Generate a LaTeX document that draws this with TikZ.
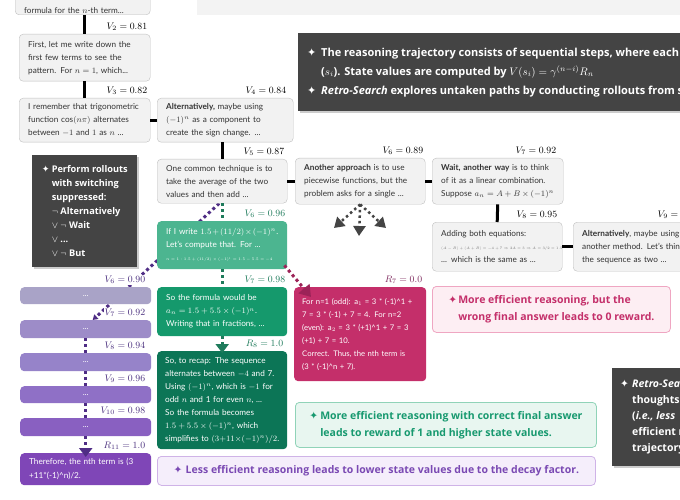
\RequirePackage{fix-cm}
\documentclass[tikz,border=0pt]{standalone}
\usepackage{fontspec}
\setmainfont{Lato}
\setsansfont{Lato}
\newfontfamily\symfont{DejaVu Sans}
\newfontfamily\notefont{Open Sans}
\usetikzlibrary{positioning,arrows.meta,shadows,backgrounds,calc}

\definecolor{boxfill}{HTML}{F2F2F2}
\definecolor{boxline}{HTML}{BFBFBF}
\definecolor{bodytext}{HTML}{333333}
\definecolor{darkgrey}{HTML}{444444}
\definecolor{topfill}{HTML}{F3F3F3}
\definecolor{gA}{HTML}{4CB590}
\definecolor{gB}{HTML}{15996C}
\definecolor{gC}{HTML}{0C7556}
\definecolor{gtext}{HTML}{1E7B5B}
\definecolor{mag}{HTML}{C42F6A}
\definecolor{magdot}{HTML}{9C2358}
\definecolor{magtext}{HTML}{7F2A5E}
\definecolor{pA}{HTML}{A9A3C7}
\definecolor{pB}{HTML}{9D8CC8}
\definecolor{pC}{HTML}{9683C9}
\definecolor{pD}{HTML}{8F70C6}
\definecolor{pE}{HTML}{8960C1}
\definecolor{pF}{HTML}{7F46B7}
\definecolor{purpdot}{HTML}{4F2D85}
\definecolor{purptext}{HTML}{4A2F7E}
\definecolor{pinkfill}{HTML}{FDEEF3}
\definecolor{pinkline}{HTML}{EFA6C2}
\definecolor{mintfill}{HTML}{E8F6F0}
\definecolor{mintline}{HTML}{90D3B8}
\definecolor{minttext}{HTML}{17996F}
\definecolor{lilacfill}{HTML}{F5EEFB}
\definecolor{lilacline}{HTML}{CFB3E7}
\definecolor{lilactext}{HTML}{7A49B3}

\newcommand{\starmark}{{\symfont\char"2726}}

\tikzset{
  stepbox/.style={draw=boxline, fill=boxfill, rounded corners=4pt, anchor=north west, align=left, inner xsep=9pt, inner ysep=1pt, text=bodytext, font=\fontsize{8.2}{13}\selectfont},
  greenbox/.style={stepbox, draw=none, text=white},
  purpbox/.style={stepbox, draw=none, text=white, align=center, text width=113pt, inner ysep=0pt},
  darkbox/.style={fill=darkgrey, anchor=north west, align=left, text=white, inner xsep=8pt, font=\notefont\bfseries\fontsize{9.2}{14}\selectfont, drop shadow={shadow xshift=1.5pt, shadow yshift=-1.5pt, opacity=0.4}},
  notebox/.style={rounded corners=4pt, anchor=north west, align=left, line width=0.8pt, font=\notefont\bfseries\fontsize{10.5}{17}\selectfont},
  vlab/.style={inner sep=1pt, fill=white, font=\fontsize{9.5}{10}\selectfont},
  link/.style={line width=3pt},
  dotlink/.style={line width=3pt, dash pattern=on 3pt off 3pt},
  bigtip/.style={-{Triangle[width=13pt,length=9pt]}},
}

\begin{document}
\begin{tikzpicture}[x=1pt,y=-1pt]
\useasboundingbox (0,0) rectangle (680,500);
\clip (0,0) rectangle (680,500);
\fill[topfill] (197,-5) rectangle (680,15);

\node[stepbox, anchor=south west, text width=117pt] (s1) at (15,15) {\mbox{}\\\mbox{}\\formula for the $n$-th term...};
\node[stepbox, text width=113pt, minimum height=47pt] (s2) at (19,34) {First, let me write down the\\first few terms to see the\\pattern. For $n=1$, which...};
\node[stepbox, text width=113pt, minimum height=44pt] (s3) at (19,98) {I remember that trigonometric\\function $\cos(n\pi)$ alternates\\between $-1$ and $1$ as $n$ ...};
\node[stepbox, text width=118pt, minimum height=44pt] (s4) at (157,98) {\textbf{Alternatively,} maybe using\\$(-1)^n$ as a component to\\create the sign change. ...};
\node[stepbox, text width=112pt, minimum height=44pt] (s5) at (157,159) {One common technique is to\\take the average of the two\\values and then add ...};
\node[stepbox, text width=112pt, minimum height=46pt] (s6) at (295,158) {\textbf{Another approach} is to use\\piecewise functions, but the\\problem asks for a single ...};
\node[stepbox, text width=113pt, minimum height=46pt] (s7) at (432,158) {\textbf{Wait, another way} is to think\\of it as a linear combination.\\Suppose $a_n = A + B\times(-1)^n$};
\node[stepbox, text width=112pt, minimum height=49pt] (s8) at (432,222) {Adding both equations:\\\mbox{\fontsize{3.5}{6}\selectfont\color{black!55}$(A-B)+(A+B)=-4+7\Rightarrow 2A=3\Rightarrow A=3/2=1.5$}\\... which is the same as ...};
\node[stepbox, text width=112pt, minimum height=49pt] (s9) at (573,222) {\textbf{Alternatively}, maybe using\\another method. Let's think\\the sequence as two ...};

\draw[link] (s2.north) -- (s2.north |- s1.south);
\draw[link] (s3.north) -- (s3.north |- s2.south);
\draw[link] (s3.east) -- (s4.west);
\draw[link] (s5.north) -- (s5.north |- s4.south);
\draw[link] (s5.east) -- (s5.east -| s6.west);
\draw[link] (s6.east) -- (s7.west);
\draw[link] (s7.south) -- (s8.north);
\draw[link] (s8.east) -- (s9.west);

\node[vlab, above left=2pt and 2pt of s2.north east] (v2) {$V_2 = 0.81$};
\node[vlab, above left=2pt and 2pt of s3.north east] (v3) {$V_3 = 0.82$};
\node[vlab, above left=2pt and 6pt of s4.north east] (v4) {$V_4 = 0.84$};
\node[vlab, above left=2pt and 2pt of s5.north east] (v5) {$V_5 = 0.87$};
\node[vlab, above left=2pt and 1pt of s6.north east] (v6) {$V_6 = 0.89$};
\node[vlab, above left=2pt and 6pt of s7.north east] (v7) {$V_7 = 0.92$};
\node[vlab, above left=2pt and 4pt of s8.north east] (v8) {$V_8 = 0.95$};
\node[vlab, above left=2pt and 4pt of s9.north east] (v9) {$V_9 = 0.98$};

\coordinate (fanL) at (334,228);
\coordinate (fanC) at (359,236);
\coordinate (fanR) at (386,228);
\foreach \e in {fanL,fanC,fanR}
  \draw[darkgrey, line width=2.5pt, dash pattern=on 2.5pt off 3pt, -{Triangle[width=12pt,length=10pt]}] (s6.south) -- (\e);

\node[greenbox, fill=gA, text width=112pt, minimum height=48pt] (g1) at (157,221) {If I write $1.5+(11/2)\times(-1)^n$.\\Let's compute that. For ...\\\mbox{\fontsize{3.8}{6}\selectfont$n=1: 1.5+(11/2)\times(-1)^1=1.5-5.5=-4$}};
\node[greenbox, fill=gB, text width=112pt, minimum height=49pt] (g2) at (157,287) {So the formula would be\\$a_n = 1.5+5.5\times(-1)^n$.\\Writing that in fractions, ...};
\node[greenbox, fill=gC, text width=114pt, inner xsep=8pt, minimum height=98pt] (g3) at (157,351) {So, to recap: The sequence\\alternates between $-4$ and 7.\\Using $(-1)^n$, which is $-1$ for\\odd $n$ and 1 for even $n$, ...\\So the formula becomes\\$1.5+5.5\times(-1)^n$, which\\simplifies to $(3+11\times(-1)^n)/2$.};
\node[greenbox, fill=mag, text width=116pt, inner xsep=8pt, minimum height=94pt, font=\fontsize{7.7}{13}\selectfont] (m1) at (294,287) {For n=1 (odd): a$_1$ = 3 * (-1)\textasciicircum1 +\\7 = 3 * (-1) + 7 = 4. For n=2\\(even): a$_2$ = 3 * (+1)\textasciicircum1 + 7 = 3\\* (+1) + 7 = 10.\\Correct. Thus, the nth term is\\(3 * (-1)\textasciicircum n + 7).};

\draw[dotlink, gtext] (s5.south) -- (g1.north);
\draw[dotlink, gtext] (g1.south) -- (g2.north);
\draw[dotlink, gtext, bigtip] (g2.south) -- ($(g3.north)+(0,2)$);
\draw[dotlink, magdot, -{Triangle[width=14pt,length=11pt]}] ($(g1.south east)+(-3,-4)$) -- ($(m1.north west)+(17,10)$);

\node[vlab, text=gtext, above left=2pt and 1pt of g1.north east] (vg6) {$V_6 = 0.96$};
\node[vlab, text=gtext, above left=2pt and 1pt of g2.north east] (vg7) {$V_7 = 0.98$};
\node[vlab, text=gtext, above left=2pt and 3pt of g3.north east] (rg8) {$R_8 = 1.0$};
\node[vlab, text=magtext, above left=2pt and 3pt of m1.north east] (rm7) {$R_7 = 0.0$};

\node[purpbox, fill=pA, minimum height=17pt] (p1) at (20,287) {...};
\node[purpbox, fill=pB, minimum height=18pt] (p2) at (20,320) {...};
\node[purpbox, fill=pC, minimum height=18pt] (p3) at (20,353) {...};
\node[purpbox, fill=pD, minimum height=17pt] (p4) at (20,386) {...};
\node[purpbox, fill=pE, minimum height=18pt] (p5) at (20,418) {...};
\node[purpbox, fill=pF, minimum height=32pt, align=left, font=\fontsize{8.2}{14}\selectfont] (p6) at (20,453) {Therefore, the nth term is (3\\+11*(-1)\textasciicircum n)/2.};

\begin{scope}[on background layer]
\draw[dotlink, purpdot, -{Triangle[width=6pt,length=5pt]}] ($(s5.south)+(-3,0)$) -- ($(p2.north)+(7,0)$);
\end{scope}
\draw[dotlink, purpdot] (p2.south) -- (p3.north);
\draw[dotlink, purpdot] (p3.south) -- (p4.north);
\draw[dotlink, purpdot] (p4.south) -- (p5.north);
\draw[dotlink, purpdot, bigtip] (p5.south) -- ($(p6.north)+(0,4)$);

\node[vlab, text=purptext, above left=2pt and 5pt of p1.north east] (vp6) {$V_6 = 0.90$};
\node[vlab, text=purptext, above left=2pt and 5pt of p2.north east] (vp7) {$V_7 = 0.92$};
\node[vlab, text=purptext, above left=2pt and 5pt of p3.north east] (vp8) {$V_8 = 0.94$};
\node[vlab, text=purptext, above left=2pt and 5pt of p4.north east] (vp9) {$V_9 = 0.96$};
\node[vlab, text=purptext, above left=2pt and 5pt of p5.north east] (vp10) {$V_{10} = 0.98$};
\node[vlab, text=purptext, above left=2pt and 5pt of p6.north east] (rp11) {$R_{11} = 1.0$};

\node[darkbox, minimum width=105pt, minimum height=112pt] (d1) at (32,155) {\makebox[10pt][l]{\starmark}Perform rollouts\\\hspace*{10pt}with switching\\\hspace*{10pt}suppressed:\\\hspace*{10pt}$\neg$ Alternatively\\\hspace*{10pt}$\vee$ $\neg$ Wait\\\hspace*{10pt}$\vee$ ...\\\hspace*{10pt}$\vee$ $\neg$ But};
\node[darkbox, minimum height=78pt, inner xsep=9pt, font=\notefont\bfseries\fontsize{11}{19}\selectfont] (d2) at (298,33) {\makebox[14pt][l]{\starmark}The reasoning trajectory consists of sequential steps, where each step\\\hspace*{14pt}($s_i$). State values are computed by $V(s_i)=\gamma^{(n-i)}R_n$\\\makebox[14pt][l]{\starmark}\textit{Retro-Search} explores untaken paths by conducting rollouts from steps};
\node[darkbox, minimum height=98pt, font=\notefont\bfseries\fontsize{10.5}{16}\selectfont] (d3) at (612,368) {\makebox[12pt][l]{\starmark}\textit{Retro-Search}\\\hspace*{12pt}thoughts\\\hspace*{12pt}(\textit{i.e., less}\\\hspace*{12pt}efficient reasoning\\\hspace*{12pt}trajectory};

\node[notebox, draw=pinkline, fill=pinkfill, text=mag, minimum width=238pt, minimum height=46pt] (n1) at (432,286) {\makebox[10pt][l]{\starmark}More efficient reasoning, but the\\\hspace*{10pt}wrong final answer leads to 0 reward.};
\node[notebox, draw=mintline, fill=mintfill, text=minttext, minimum width=301pt, minimum height=45pt] (n2) at (295,402) {\makebox[11pt][l]{\starmark}More efficient reasoning with correct final answer\\\hspace*{11pt}leads to reward of 1 and higher state values.};
\node[notebox, draw=lilacline, fill=lilacfill, text=lilactext, minimum width=438pt, minimum height=29pt] (n3) at (157,456) {\makebox[12pt][l]{\starmark}Less efficient reasoning leads to lower state values due to the decay factor.};
\end{tikzpicture}
\end{document}
